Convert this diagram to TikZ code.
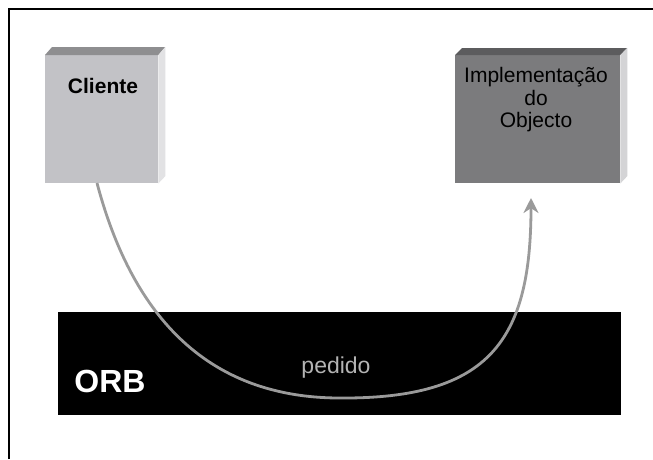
\documentclass[tikz,border=0pt]{standalone}
\usepackage{fontspec}
\setmainfont{Liberation Sans}
\usetikzlibrary{arrows.meta}
\definecolor{cliFront}{HTML}{C2C2C6}
\definecolor{cliTop}{HTML}{8E8E90}
\definecolor{cliSide}{HTML}{E2E2E4}
\definecolor{impFront}{HTML}{7B7B7D}
\definecolor{impTop}{HTML}{5C5C5E}
\definecolor{impSide}{HTML}{D4D4D6}
\definecolor{arrowGray}{HTML}{9A9A9A}
\definecolor{pedGray}{HTML}{B4B4B4}
\tikzset{
  frontface/.style={draw=none, inner sep=0pt, anchor=north west},
  flow/.style={draw=arrowGray, line width=2.8pt, -{Stealth[length=15pt,width=15pt]}},
  boxtext/.style={font=\fontsize{21}{22.5}\selectfont, text=black, align=center, inner sep=0pt},
}
\begin{document}
\begin{tikzpicture}[x=1pt,y=-1pt]
\useasboundingbox (0,0) rectangle (653,459);
\fill[white] (0,0) rectangle (653,459);
% frame (left and top only visible)
\draw[line width=2pt] (8.5,459) -- (8.5,8.5) -- (653,8.5);

% Cliente box
\node[frontface, fill=cliFront, minimum width=113pt, minimum height=128pt] (cli) at (45,55) {};
\fill[cliTop] (cli.north west) -- ++(7,-8) -- ++(113,0) -- (cli.north east) -- cycle;
\fill[cliSide] (cli.north east) -- ++(7,-8) -- ++(0,129) -- (cli.south east) -- cycle;
\node[boxtext, font=\fontsize{21}{22}\selectfont\bfseries] (clitext) at (103,86) {Cliente};

% Implementacao box
\node[frontface, fill=impFront, minimum width=165pt, minimum height=128pt] (imp) at (455,55) {};
\fill[impTop] (imp.north west) -- ++(7,-7) -- ++(165,0) -- (imp.north east) -- cycle;
\fill[impSide] (imp.north east) -- ++(7,-7) -- ++(0,128) -- (imp.south east) -- cycle;
\node[boxtext] (imptext) at (536,100) {Implementação\\do\\Objecto};

% ORB bar
\node[draw=none, fill=black, inner sep=0pt, minimum width=563pt, minimum height=103pt, anchor=north west] (orb) at (58,312) {};
\node[text=white, font=\fontsize{32}{34}\selectfont\bfseries, inner sep=0pt] (orbtext) at (110,381) {ORB};
\node[text=pedGray, font=\fontsize{23}{25}\selectfont, inner sep=0pt] (pedido) at (336,368) {pedido};

% request arrow
\coordinate (start) at (97,183);
\coordinate (low) at (340,398);
\coordinate (tip) at (531,198);
\draw[flow] (start) .. controls (128,300) and (195,398) .. (low)
  .. controls (490,399) and (531,340) .. (tip);
\end{tikzpicture}
\end{document}
